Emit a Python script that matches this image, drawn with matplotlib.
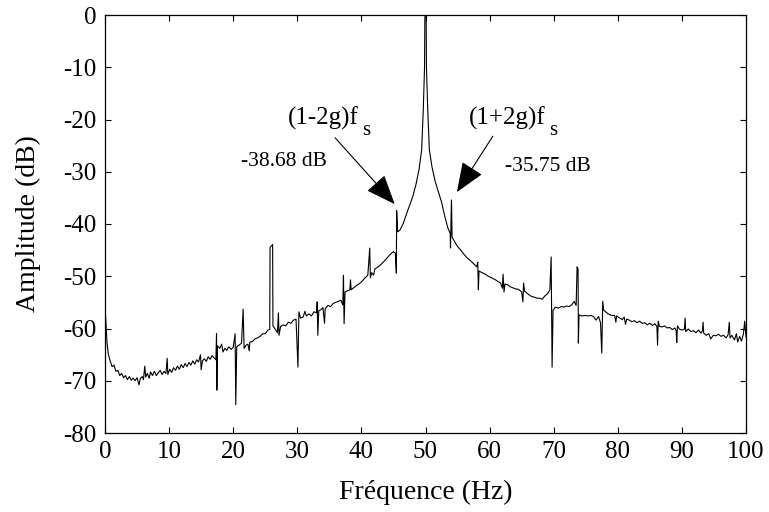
import matplotlib
matplotlib.use("Agg")
import matplotlib.pyplot as plt

plt.rcParams['font.family'] = ['Liberation Serif', 'DejaVu Serif']

freq = [0.0, 0.15, 0.3, 0.5, 0.8, 1.1, 1.4, 1.7, 2.0, 2.3, 2.6, 2.9, 3.2, 3.5, 3.8, 4.1, 4.4, 4.7,
        5.0, 5.3, 5.5, 5.8, 6.0, 6.2, 6.35, 6.6, 6.9, 7.1, 7.4, 7.7, 8.0, 8.3, 8.6, 8.9, 9.2, 9.5,
        9.7, 9.8, 10.1, 10.4, 10.7, 11.0, 11.3, 11.6, 11.9, 12.2, 12.5, 12.8, 13.1, 13.4, 13.7,
        14.0, 14.3, 14.6, 14.9, 15.0, 15.2, 15.5, 15.8, 16.1, 16.4, 16.7, 17.0, 17.3, 17.4, 17.45,
        17.55, 17.9, 18.2, 18.4, 18.7, 19.0, 19.3, 19.7, 20.0, 20.3, 20.4, 20.55, 20.9, 21.3,
        21.55, 21.7, 22.0, 22.3, 22.5, 22.6, 23.0, 23.4, 23.8, 24.2, 24.6, 25.0, 25.4, 25.7,
        25.75, 26.15, 26.2, 26.5, 26.9, 27.05, 27.15, 27.4, 27.8, 28.2, 28.6, 29.0, 29.4, 29.8,
        30.1, 30.25, 30.5, 30.9, 31.2, 31.4, 31.8, 32.2, 32.6, 33.0, 33.1, 33.2, 33.35, 33.7,
        34.0, 34.25, 34.35, 34.8, 35.2, 35.6, 36.0, 36.4, 36.8, 37.1, 37.2, 37.3, 37.45, 37.8,
        38.2, 38.3, 38.4, 38.8, 39.2, 39.6, 40.0, 40.5, 41.0, 41.3, 41.4, 41.6, 41.9, 42.1, 42.5,
        43.0, 43.5, 44.0, 44.5, 45.0, 45.3, 45.45, 45.5, 45.65, 46.0, 46.5, 47.0, 47.5, 48.0,
        48.5, 49.0, 49.4, 49.65, 49.85, 49.9, 50.0, 50.1, 50.15, 50.35, 50.6, 51.0, 51.5, 52.0,
        52.5, 53.0, 53.5, 53.85, 53.9, 54.05, 54.15, 54.6, 55.0, 55.5, 56.0, 56.5, 57.0, 57.5,
        58.0, 58.15, 58.25, 58.35, 58.8, 59.3, 59.8, 60.3, 60.8, 61.3, 61.7, 62.0, 62.1, 62.25,
        62.4, 62.8, 63.2, 63.6, 64.0, 64.5, 65.0, 65.2, 65.3, 65.45, 65.8, 66.2, 66.6, 67.0,
        67.4, 67.8, 68.2, 68.6, 69.0, 69.4, 69.6, 69.75, 69.9, 70.3, 70.7, 71.2, 71.6, 72.0,
        72.4, 72.8, 73.2, 73.5, 73.65, 73.8, 73.85, 73.95, 74.4, 74.9, 75.4, 75.8, 76.2, 76.6,
        77.0, 77.3, 77.5, 77.65, 77.8, 78.2, 78.5, 79.0, 79.5, 79.7, 79.8, 80.3, 80.7, 81.0,
        81.2, 81.4, 81.8, 82.2, 82.6, 83.0, 83.4, 83.8, 84.2, 84.6, 85.0, 85.4, 85.8, 86.1,
        86.2, 86.3, 86.5, 86.9, 87.3, 87.7, 88.1, 88.5, 88.9, 89.1, 89.2, 89.3, 89.6, 90.0,
        90.4, 90.5, 90.6, 91.0, 91.4, 91.8, 92.2, 92.6, 93.0, 93.2, 93.3, 93.4, 93.8, 94.2,
        94.5, 94.9, 95.3, 95.7, 96.1, 96.5, 96.9, 97.2, 97.4, 97.5, 97.8, 98.2, 98.5, 98.7,
        99.0, 99.3, 99.6, 99.8, 100.0]

amp_db = [-55.9, -59.0, -62.5, -64.8, -66.2, -67.3, -67.0, -68.2, -68.0, -69.0, -68.6, -69.4,
          -69.0, -69.8, -69.2, -69.9, -69.5, -70.0, -69.4, -70.8, -69.6, -69.2, -69.8, -67.2,
          -69.3, -68.6, -69.5, -68.3, -69.0, -68.2, -69.0, -68.5, -68.0, -68.8, -68.2, -68.6,
          -65.7, -68.8, -67.8, -68.4, -67.5, -68.0, -67.2, -67.8, -66.9, -67.5, -66.7, -67.3,
          -66.5, -67.0, -66.2, -66.8, -66.0, -66.4, -65.0, -67.9, -66.2, -65.8, -66.3, -65.4,
          -65.9, -65.2, -65.6, -66.0, -61.0, -71.8, -63.3, -63.8, -63.0, -64.5, -63.8, -64.2,
          -63.5, -64.0, -63.6, -61.0, -74.6, -63.5, -63.2, -62.8, -56.3, -63.8, -63.2, -63.0,
          -64.3, -62.6, -62.5, -62.0, -61.8, -61.5, -61.0, -61.0, -60.3, -60.2, -44.5, -43.9,
          -59.5, -60.0, -60.8, -57.0, -61.3, -59.6, -59.3, -59.5, -58.8, -59.0, -58.4, -58.2,
          -67.4, -56.8, -58.0, -57.8, -56.7, -57.6, -57.2, -57.6, -56.8, -57.0, -54.9, -61.3,
          -56.6, -56.4, -56.0, -59.0, -56.2, -55.6, -55.8, -55.2, -55.0, -54.8, -54.6, -55.5,
          -49.8, -59.1, -53.0, -52.8, -52.6, -50.7, -52.6, -52.2, -51.8, -51.5, -51.1, -50.4,
          -49.8, -44.6, -50.3, -49.3, -49.8, -48.6, -48.3, -47.8, -47.2, -46.5, -45.8, -45.3,
          -45.6, -49.4, -37.4, -41.5, -41.2, -40.0, -38.2, -36.5, -34.8, -32.5, -29.5, -25.8,
          -18.2, -10.0, -0.5, 0.0, -0.5, -10.0, -18.2, -25.8, -29.0, -31.8, -33.8, -35.8, -38.5,
          -40.8, -41.8, -44.6, -35.4, -42.5, -43.5, -44.3, -45.0, -45.8, -46.5, -47.0, -47.6,
          -48.2, -47.3, -52.6, -49.0, -49.3, -49.6, -50.0, -50.3, -50.6, -51.0, -51.3, -52.3,
          -49.6, -53.0, -51.5, -51.6, -52.0, -52.2, -52.4, -52.5, -53.0, -54.9, -51.3, -52.8,
          -53.2, -53.6, -53.9, -54.0, -54.2, -54.2, -54.4, -53.8, -53.4, -52.6, -46.3, -67.4,
          -56.5, -55.9, -56.1, -55.8, -55.9, -55.7, -55.8, -55.5, -54.8, -55.6, -48.2, -48.6,
          -62.8, -57.4, -57.6, -57.5, -57.6, -57.5, -57.7, -58.4, -57.7, -58.9, -64.7, -54.8,
          -56.5, -56.9, -57.2, -57.5, -57.5, -58.8, -57.6, -58.0, -58.3, -57.8, -59.2, -58.2,
          -58.4, -58.7, -58.5, -58.9, -58.6, -59.0, -58.9, -59.3, -59.0, -59.4, -59.1, -59.6,
          -63.2, -58.6, -59.6, -59.7, -59.5, -59.9, -59.8, -60.2, -59.9, -60.4, -62.7, -59.5,
          -60.1, -60.3, -60.1, -58.0, -60.6, -60.1, -60.6, -60.4, -60.8, -60.3, -60.9, -60.4,
          -58.8, -60.9, -61.3, -61.0, -62.0, -61.3, -61.4, -61.1, -61.5, -61.3, -61.8, -61.2,
          -58.8, -61.8, -61.3, -62.2, -61.0, -62.6, -61.5, -62.4, -61.0, -58.6, -61.6]

x_ticks = [0, 10, 20, 30, 40, 50, 60, 70, 80, 90, 100]
y_ticks = [0, -10, -20, -30, -40, -50, -60, -70, -80]
x_label = "Fréquence (Hz)"
y_label = "Amplitude (dB)"

fig = plt.figure(figsize=(7.69, 5.12), dpi=100)
ax = fig.add_axes([105/769, 1 - 433/512, 641/769, 418/512])

ax.plot(freq, amp_db, color='black', lw=0.8)

ax.set_xlim(0, 100)
ax.set_ylim(-80, 0)
ax.set_xticks(x_ticks)
ax.set_yticks(y_ticks)
ax.set_xticklabels([str(t) for t in x_ticks])
ax.set_yticklabels([str(t) for t in y_ticks])
ax.tick_params(direction='in', top=True, right=True, length=4, width=0.8,
               labelsize=18, pad=6)
for s in ax.spines.values():
    s.set_linewidth(0.9)

ax.set_xlabel(x_label, fontsize=20, labelpad=12)
ax.set_ylabel(y_label, fontsize=20, labelpad=16)

arrow = dict(arrowstyle='-|>,head_length=0.75,head_width=0.3', lw=0.8,
             color='black', mutation_scale=25, shrinkA=0, shrinkB=0)
ax.annotate('', xy=(45.2, -36.2), xytext=(35.9, -23.5), arrowprops=arrow)
ax.annotate('', xy=(54.9, -33.9), xytext=(60.5, -23.2), arrowprops=arrow)

ax.text(28.5, -21.05, '(1-2g)f', fontsize=18, ha='left', va='baseline')
ax.text(40.1, -22.97, 's', fontsize=15, ha='left', va='baseline')
ax.text(56.8, -21.05, '(1+2g)f', fontsize=18, ha='left', va='baseline')
ax.text(69.3, -22.97, 's', fontsize=15, ha='left', va='baseline')
ax.text(27.9, -28.1, '-38.68 dB', fontsize=15.5, ha='center', va='center')
ax.text(69.1, -28.9, '-35.75 dB', fontsize=15.5, ha='center', va='center')

fig.savefig('out.png', dpi=100)
